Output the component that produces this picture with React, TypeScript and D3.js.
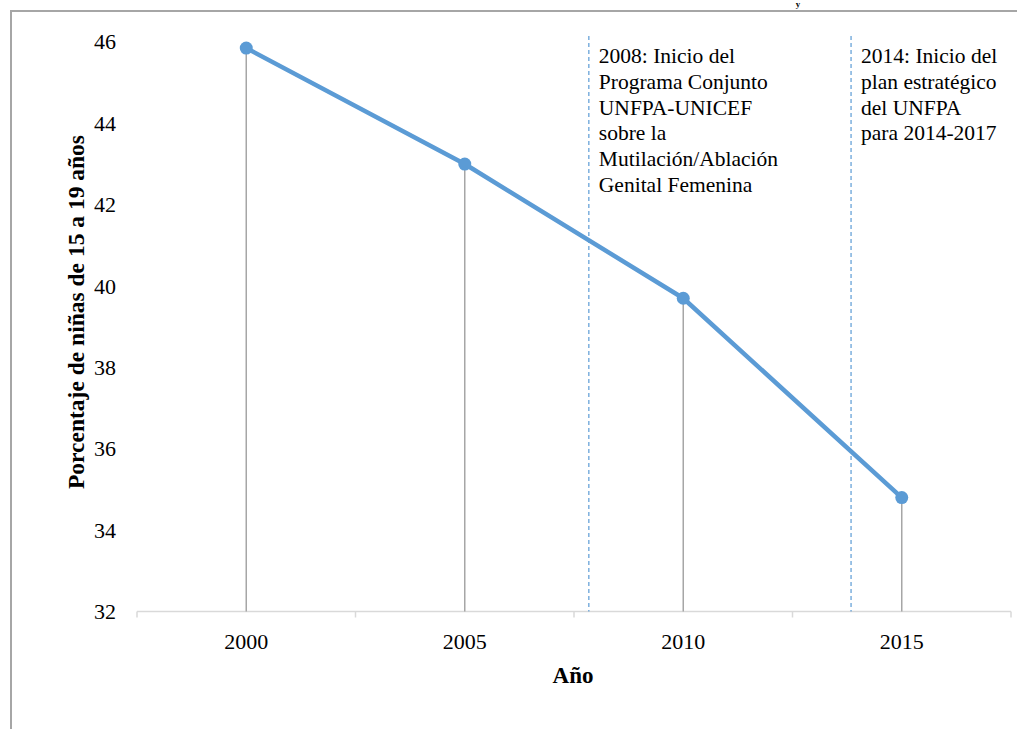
import React from "react";
import * as d3 from "d3";

// Porcentaje de niñas de 15 a 19 años sometidas a M/AGF, por año
const years = ["2000", "2005", "2010", "2015"];
const values = [45.85, 43.0, 39.7, 34.8];
const yTicks = [32, 34, 36, 38, 40, 42, 44, 46];

// Hitos programáticos marcados con líneas discontinuas
const eventYears = [2008, 2014];
const eventLabels = [
  [
    "2008: Inicio del",
    "Programa Conjunto",
    "UNFPA-UNICEF",
    "sobre la",
    "Mutilación/Ablación",
    "Genital Femenina",
  ],
  ["2014: Inicio del", "plan estratégico", "del UNFPA", "para 2014-2017"],
];

const W = 1017;
const H = 729;
const FONT = "Times New Roman, Liberation Serif, Tinos, serif";
const BLUE = "#5B9BD5";

export default function App() {
  const x = d3.scaleBand<string>().domain(years).range([137, 1011]).padding(0);
  const y = d3.scaleLinear().domain([32, 46]).range([611.5, 42]);
  const cx = (yr: string) => (x(yr) as number) + x.bandwidth() / 2;

  // Continuous year position, aligned with the category centres
  const yearX = d3
    .scaleLinear()
    .domain([2000, 2015])
    .range([cx("2000"), cx("2015")]);
  const eventNudge = -7;

  const points = years.map((yr, i) => [cx(yr), y(values[i])] as [number, number]);
  const line = d3.line<[number, number]>()(points) as string;

  const boundaries = [...years.map((yr) => x(yr) as number), x.range()[1]];
  const axisY = y(32);

  return (
    <svg
      width={W}
      height={H}
      style={{ position: "absolute", left: 0, top: 0, background: "#fff", fontFamily: FONT }}
    >
      {/* heading fragment above the frame */}
      <text x={798} y={7} fontFamily={FONT} fontWeight="bold" fontSize={9} textAnchor="middle">
        y
      </text>
      {/* frame */}
      <line x1={10} x2={W} y1={11} y2={11} stroke="#a6a6a6" strokeWidth={2} />
      <line x1={11} x2={11} y1={10} y2={H} stroke="#a6a6a6" strokeWidth={2} />

      {/* y tick labels */}
      {yTicks.map((t) => (
        <text
          key={t}
          x={116}
          y={y(t)}
          dy="0.34em"
          textAnchor="end"
          fontFamily={FONT}
          fontSize={22}
          fill="#000"
        >
          {t}
        </text>
      ))}

      {/* x axis */}
      <line x1={x.range()[0]} x2={x.range()[1]} y1={axisY} y2={axisY} stroke="#d9d9d9" strokeWidth={1.5} />
      {boundaries.map((b, i) => (
        <line key={i} x1={b} x2={b} y1={axisY} y2={axisY + 6} stroke="#d9d9d9" strokeWidth={1.5} />
      ))}
      {years.map((yr) => (
        <text
          key={yr}
          x={cx(yr)}
          y={649}
          textAnchor="middle"
          fontFamily={FONT}
          fontSize={22}
          fill="#000"
        >
          {yr}
        </text>
      ))}

      {/* axis titles */}
      <text
        x={573}
        y={683}
        textAnchor="middle"
        fontFamily={FONT}
        fontWeight="bold"
        fontSize={23}
      >
        Año
      </text>
      <text
        transform={`translate(84, 312) rotate(-90)`}
        textAnchor="middle"
        fontFamily={FONT}
        fontWeight="bold"
        fontSize={23.5}
      >
        Porcentaje de niñas de 15 a 19 años
      </text>

      {/* event markers */}
      {eventYears.map((ey, i) => {
        const ex = yearX(ey) + eventNudge;
        return (
          <g key={ey}>
            <line
              x1={ex}
              x2={ex}
              y1={36}
              y2={axisY}
              stroke={BLUE}
              strokeWidth={1.2}
              strokeDasharray="4 3"
            />
            {eventLabels[i].map((l, j) => (
              <text
                key={j}
                x={ex + 10}
                y={63 + j * 25.8}
                fontFamily={FONT}
                fontSize={21.5}
                fill="#000"
              >
                {l}
              </text>
            ))}
          </g>
        );
      })}

      {/* drop lines */}
      {points.map(([px, py], i) => (
        <line key={i} x1={px} x2={px} y1={py} y2={axisY} stroke="#a6a6a6" strokeWidth={1.5} />
      ))}

      {/* series */}
      <path d={line} fill="none" stroke={BLUE} strokeWidth={4.5} strokeLinejoin="round" />
      {points.map(([px, py], i) => (
        <circle key={i} cx={px} cy={py} r={6.5} fill={BLUE} />
      ))}
    </svg>
  );
}
